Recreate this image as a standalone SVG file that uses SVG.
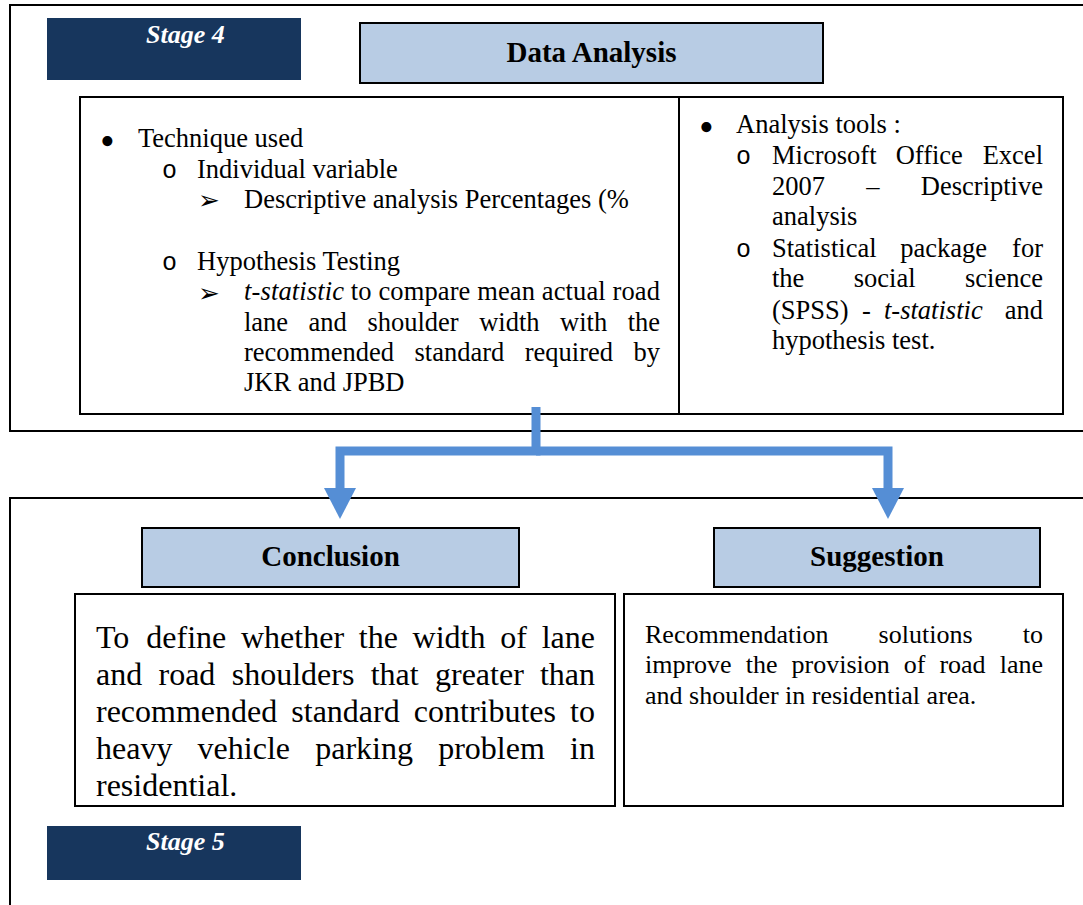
<svg xmlns="http://www.w3.org/2000/svg" width="1083" height="905" viewBox="0 0 1083 905">
<defs>
<style>
.frame{fill:none;stroke:#000;stroke-width:2}
.box{fill:#fff;stroke:#000;stroke-width:2}
.hdr{fill:#B8CCE4;stroke:#000;stroke-width:2}
.stage{fill:#17365D}
.stxt{font-family:"Liberation Serif",serif;font-weight:bold;font-style:italic;font-size:26px;fill:#fff}
.htxt{font-family:"Liberation Serif",serif;font-weight:bold;font-size:29px;fill:#000;text-anchor:middle}
.t{font-family:"Liberation Serif",serif;font-size:26.5px;fill:#000}
.c{font-family:"Liberation Serif",serif;font-size:32px;fill:#000}
.s{font-family:"Liberation Serif",serif;font-size:26px;fill:#000}
.e{text-anchor:end}
.i{font-style:italic}
.o{font-family:"Liberation Mono",monospace;font-size:25px;fill:#000}
.b{font-family:"Liberation Serif",serif;font-size:42px;fill:#000}
.ar{font-family:"DejaVu Sans",sans-serif;font-size:26px;fill:#000}
.conn{fill:none;stroke:#558ED5;stroke-width:9;stroke-linejoin:miter}
</style>
<marker id="head" markerUnits="userSpaceOnUse" viewBox="0 0 31 32" refX="0" refY="16" markerWidth="31" markerHeight="32" orient="auto">
<path d="M0,0 L31,16 L0,32 Z" fill="#558ED5"/>
</marker>
</defs>
<rect width="1083" height="905" fill="#fff"/>

<g id="stage4-frame">
<path class="frame" d="M1090,5 H10 V431 H1090"/>
</g>
<g id="stage5-frame">
<path class="frame" d="M1090,498 H10 V910"/>
</g>

<g id="stage4">
<rect class="stage" x="47" y="18" width="254" height="62"/>
<text class="stxt" x="146" y="43">Stage 4</text>
</g>

<g id="data-analysis">
<rect class="hdr" x="360" y="23" width="463" height="60"/>
<text class="htxt" x="591.5" y="62">Data Analysis</text>
</g>

<g id="analysis-content">
<rect class="box" x="80" y="97" width="983" height="317"/>
<line x1="679" y1="97" x2="679" y2="414" stroke="#000" stroke-width="2"/>
<text class="b" x="100" y="155">•</text>
<text class="t" x="138" y="147">Technique used</text>
<text class="o" x="162" y="178">o</text>
<text class="t" x="197" y="178">Individual variable</text>
<text class="ar" x="198" y="209">➢</text>
<text class="t" x="244" y="208">Descriptive analysis Percentages (%</text>
<text class="o" x="162" y="270">o</text>
<text class="t" x="197" y="270">Hypothesis Testing</text>
<text class="ar" x="198" y="302">➢</text>
<text class="t" x="244" y="300" textLength="416" lengthAdjust="spacing"><tspan class="i">t-statistic</tspan> to compare mean actual road</text>
<text class="t" y="330.5"><tspan x="244">lane</tspan><tspan x="308.6">and</tspan><tspan x="367.4">shoulder</tspan><tspan x="479.2">width</tspan><tspan x="560.1">with</tspan></text>
<text class="t e" x="660" y="330.5">the</text>
<text class="t" y="361"><tspan x="244">recommended</tspan><tspan x="414.5">standard</tspan><tspan x="524.7">required</tspan></text>
<text class="t e" x="660" y="361">by</text>
<text class="t" x="244" y="391">JKR and JPBD</text>

<text class="b" x="699" y="141">•</text>
<text class="t" x="736" y="133">Analysis tools :</text>
<text class="o" x="736" y="164">o</text>
<text class="t" y="164"><tspan x="772">Microsoft</tspan><tspan x="895.7">Office</tspan></text>
<text class="t e" x="1043" y="164">Excel</text>
<text class="t" y="194.5"><tspan x="772">2007</tspan><tspan x="866.3">–</tspan></text>
<text class="t e" x="1043" y="194.5">Descriptive</text>
<text class="t" x="772" y="225">analysis</text>
<text class="o" x="736" y="257">o</text>
<text class="t" y="257"><tspan x="772">Statistical</tspan><tspan x="900.2">package</tspan></text>
<text class="t e" x="1043" y="257">for</text>
<text class="t" y="287"><tspan x="772">the</tspan><tspan x="853.8">social</tspan></text>
<text class="t e" x="1043" y="287">science</text>
<text class="t" y="319"><tspan x="772">(SPSS)</tspan><tspan x="862">-</tspan><tspan x="884" class="i">t-statistic</tspan></text>
<text class="t e" x="1043" y="319">and</text>
<text class="t" x="772" y="349">hypothesis test.</text>
</g>

<g id="connectors">
<path class="conn" d="M536,407 V451 H340 V488" marker-end="url(#head)"/>
<path class="conn" d="M536,451 H888 V488" marker-end="url(#head)"/>
</g>

<g id="conclusion">
<rect class="hdr" x="142" y="528" width="377" height="59"/>
<text class="htxt" x="330.5" y="566">Conclusion</text>
</g>

<g id="suggestion">
<rect class="hdr" x="714" y="528" width="326" height="59"/>
<text class="htxt" x="877" y="566">Suggestion</text>
</g>

<g id="conclusion-text">
<rect class="box" x="75" y="594" width="540" height="212"/>
<text class="c" y="648"><tspan x="96">To</tspan><tspan x="146.3">define</tspan><tspan x="241">whether</tspan><tspan x="358.8">the</tspan><tspan x="412.6">width</tspan><tspan x="500.2">of</tspan></text>
<text class="c e" x="595" y="648">lane</text>
<text class="c" y="685"><tspan x="96">and</tspan><tspan x="158.5">road</tspan><tspan x="231.7">shoulders</tspan><tspan x="370.7">that</tspan><tspan x="435">greater</tspan></text>
<text class="c e" x="595" y="685">than</text>
<text class="c" y="722"><tspan x="96">recommended</tspan><tspan x="291.3">standard</tspan><tspan x="413.8">contributes</tspan></text>
<text class="c e" x="595" y="722">to</text>
<text class="c" y="759"><tspan x="96">heavy</tspan><tspan x="197.6">vehicle</tspan><tspan x="315.2">parking</tspan><tspan x="438.2">problem</tspan></text>
<text class="c e" x="595" y="759">in</text>
<text class="c" x="96" y="796">residential.</text>
</g>

<g id="suggestion-text">
<rect class="box" x="624" y="594" width="439" height="212"/>
<text class="s" y="643"><tspan x="645">Recommendation</tspan><tspan x="878.6">solutions</tspan></text>
<text class="s e" x="1043" y="643">to</text>
<text class="s" y="673"><tspan x="645">improve</tspan><tspan x="745.7">the</tspan><tspan x="791.5">provision</tspan><tspan x="903.7">of</tspan><tspan x="939.4">road</tspan></text>
<text class="s e" x="1043" y="673">lane</text>
<text class="s" x="645" y="704">and shoulder in residential area.</text>
</g>

<g id="stage5">
<rect class="stage" x="47" y="826" width="254" height="54"/>
<text class="stxt" x="146" y="850">Stage 5</text>
</g>
</svg>
